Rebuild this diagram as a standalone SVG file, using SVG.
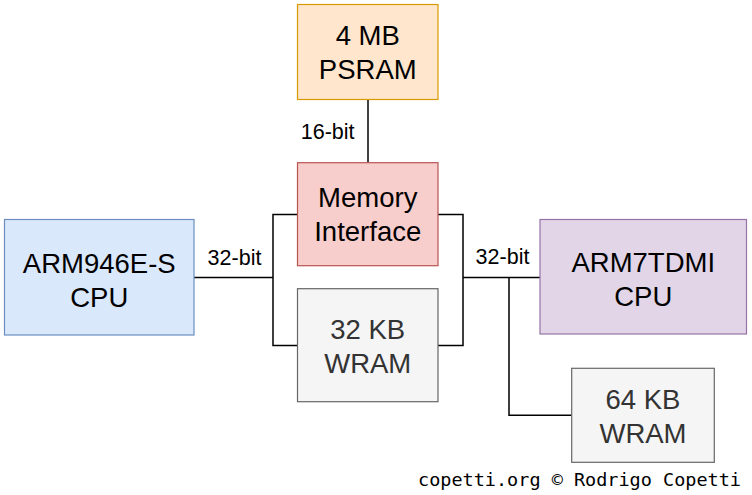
<svg xmlns="http://www.w3.org/2000/svg" width="752" height="495" viewBox="0 0 752 495">
<style>
.box text{font-family:"Liberation Sans",Arial,sans-serif;font-size:27.5px;text-anchor:middle;fill:#000}
.gray text{fill:#333333}
.lbl{font-family:"Liberation Sans",Arial,sans-serif;font-size:21.5px;text-anchor:middle;fill:#000}
.conn{fill:none;stroke:#000;stroke-width:1.5}
</style>
<rect width="752" height="495" fill="#ffffff"/>
<g id="connectors">
<path class="conn" d="M368,99.5 V162.7"/>
<path class="conn" d="M194,277.5 H273 M297.5,214.5 H273 V345.5 H297.5"/>
<path class="conn" d="M540,277.5 H463 M438,214.5 H463 V345.5 H438"/>
<path class="conn" d="M509,277.5 V415.3 H571.7"/>
</g>
<g id="labels">
<text class="lbl" x="327.7" y="139.3">16-bit</text>
<text class="lbl" x="234.5" y="264.5">32-bit</text>
<text class="lbl" x="502.5" y="264">32-bit</text>
</g>
<g id="psram" class="box">
<rect x="297.5" y="4.5" width="140.5" height="95" fill="#ffe6cc" stroke="#d79b00" stroke-width="1.2"/>
<text x="367.75" y="45">4 MB</text>
<text x="367.75" y="79">PSRAM</text>
</g>
<g id="memory-interface" class="box">
<rect x="297.5" y="162.7" width="140.5" height="103" fill="#f8cecc" stroke="#b85450" stroke-width="1.2"/>
<text x="367.75" y="207.3">Memory</text>
<text x="367.75" y="241.3">Interface</text>
</g>
<g id="wram32" class="box gray">
<rect x="297.5" y="288.7" width="140.5" height="113" fill="#f5f5f5" stroke="#666666" stroke-width="1.2"/>
<text x="367.75" y="338.5">32 KB</text>
<text x="367.75" y="372.7">WRAM</text>
</g>
<g id="arm9" class="box">
<rect x="4.5" y="219.5" width="189.5" height="115.5" fill="#dae8fc" stroke="#6c8ebf" stroke-width="1.2"/>
<text x="99.25" y="273">ARM946E-S</text>
<text x="99.25" y="306.7">CPU</text>
</g>
<g id="arm7" class="box">
<rect x="540" y="219.5" width="206.5" height="114.5" fill="#e1d5e7" stroke="#9673a6" stroke-width="1.2"/>
<text x="643.25" y="272.3">ARM7TDMI</text>
<text x="643.25" y="305.7">CPU</text>
</g>
<g id="wram64" class="box gray">
<rect x="571.7" y="368.3" width="142.6" height="94" fill="#f5f5f5" stroke="#666666" stroke-width="1.2"/>
<text x="643" y="408.5">64 KB</text>
<text x="643" y="442.8">WRAM</text>
</g>
<text x="418" y="486" font-family="DejaVu Sans Mono,monospace" font-size="18.5" fill="#000">copetti.org © Rodrigo Copetti</text>
</svg>
